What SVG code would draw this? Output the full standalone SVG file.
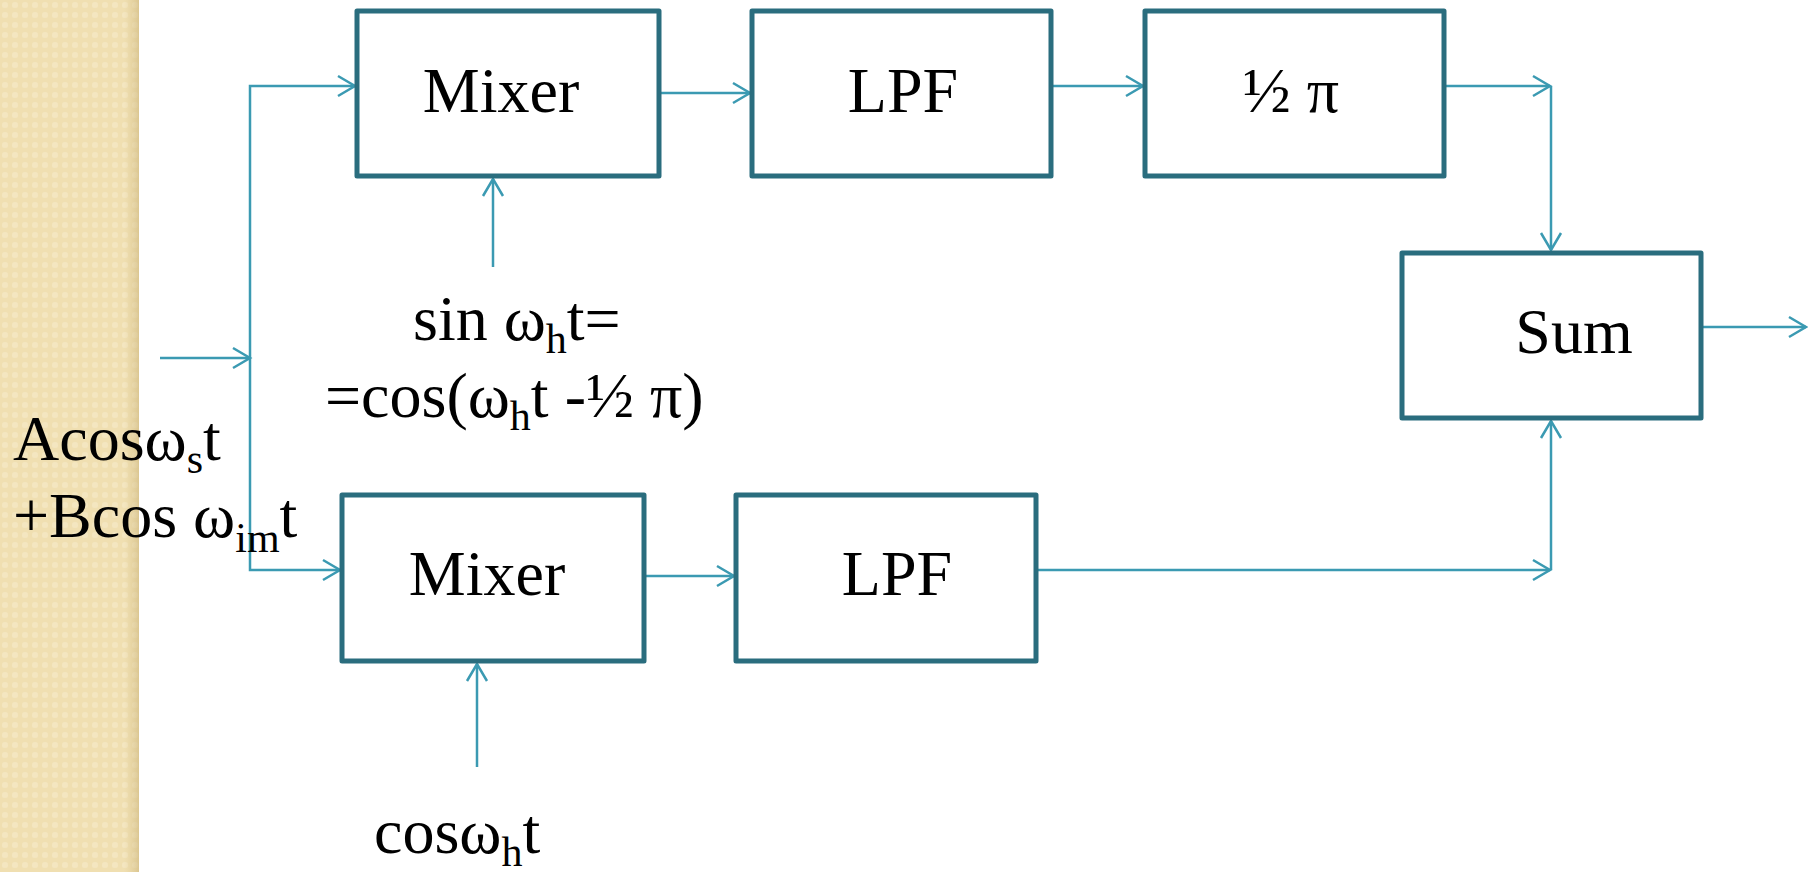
<svg xmlns="http://www.w3.org/2000/svg" width="1808" height="872" viewBox="0 0 1808 872">
<style>
.box{fill:#ffffff;stroke:#2a6d7e;stroke-width:5;stroke-linejoin:round}
.lbl{font-family:"Liberation Serif","Times New Roman",serif;font-size:64px;fill:#000}
.sub{font-size:42px}
.con{fill:none;stroke:#3b9ab2;stroke-width:2.5}
</style>
<defs>
<pattern id="dots" width="10" height="10" patternUnits="userSpaceOnUse">
<rect width="10" height="10" fill="#f0dfb1"/>
<rect x="2" y="2" width="6" height="6" rx="2.5" fill="#f4e6c0"/>
</pattern>
<linearGradient id="edge" x1="0" x2="1" y1="0" y2="0">
<stop offset="0" stop-color="#d9c48e" stop-opacity="0"/>
<stop offset="1" stop-color="#cdb67c" stop-opacity="0.6"/>
</linearGradient>
<marker id="arr" markerUnits="userSpaceOnUse" markerWidth="24" markerHeight="26" viewBox="-20 -13 24 26" refX="0" refY="0" orient="auto">
<path d="M-17,-10 L0,0 L-17,10" fill="none" stroke="#3b9ab2" stroke-width="2.5"/>
</marker>
</defs>
<rect x="0" y="0" width="1808" height="872" fill="#ffffff"/>
<rect x="0" y="0" width="139" height="872" fill="url(#dots)"/>
<rect x="124" y="0" width="15" height="872" fill="url(#edge)"/>

<g id="connectors">
<path class="con" d="M160,358 H250" marker-end="url(#arr)"/>
<path class="con" d="M250,358 V86 H355" marker-end="url(#arr)"/>
<path class="con" d="M250,358 V570 H340" marker-end="url(#arr)"/>
<path class="con" d="M659,93 H750" marker-end="url(#arr)"/>
<path class="con" d="M1050,86 H1143" marker-end="url(#arr)"/>
<path class="con" d="M1444,86 H1550" marker-end="url(#arr)"/>
<path class="con" d="M1551,86 V250" marker-end="url(#arr)"/>
<path class="con" d="M1701,327 H1806" marker-end="url(#arr)"/>
<path class="con" d="M644,576 H734" marker-end="url(#arr)"/>
<path class="con" d="M1036,570 H1550" marker-end="url(#arr)"/>
<path class="con" d="M1551,570 V421" marker-end="url(#arr)"/>
<path class="con" d="M493,267 V179" marker-end="url(#arr)"/>
<path class="con" d="M477,767 V664" marker-end="url(#arr)"/>
</g>

<g id="mixer1">
<rect class="box" x="357" y="11" width="302" height="165"/>
<text class="lbl" x="501" y="112" text-anchor="middle">Mixer</text>
</g>
<g id="lpf1">
<rect class="box" x="752" y="11" width="299" height="165"/>
<text class="lbl" x="903" y="112" text-anchor="middle">LPF</text>
</g>
<g id="phase">
<rect class="box" x="1145" y="11" width="299" height="165"/>
<text class="lbl" x="1291" y="112" text-anchor="middle">½ π</text>
</g>
<g id="sum">
<rect class="box" x="1402" y="253" width="299" height="165"/>
<text class="lbl" x="1574" y="353" text-anchor="middle">Sum</text>
</g>
<g id="mixer2">
<rect class="box" x="342" y="495" width="302" height="166"/>
<text class="lbl" x="487" y="595" text-anchor="middle">Mixer</text>
</g>
<g id="lpf2">
<rect class="box" x="736" y="495" width="300" height="166"/>
<text class="lbl" x="897" y="595" text-anchor="middle">LPF</text>
</g>

<g id="lo1-label">
<text class="lbl" x="413" y="340">sin ω<tspan class="sub" dy="13">h</tspan><tspan dy="-13">t=</tspan></text>
<text class="lbl" x="325" y="417">=cos(ω<tspan class="sub" dy="13">h</tspan><tspan dy="-13">t -½ π)</tspan></text>
</g>
<g id="input-label">
<text class="lbl" x="13" y="460">Acosω<tspan class="sub" dy="13">s</tspan><tspan dy="-13">t</tspan></text>
<text class="lbl" x="13" y="537">+Bcos ω<tspan class="sub" dy="15">im</tspan><tspan dy="-15">t</tspan></text>
</g>
<g id="lo2-label">
<text class="lbl" x="374" y="853">cosω<tspan class="sub" dy="13">h</tspan><tspan dy="-13">t</tspan></text>
</g>
</svg>
